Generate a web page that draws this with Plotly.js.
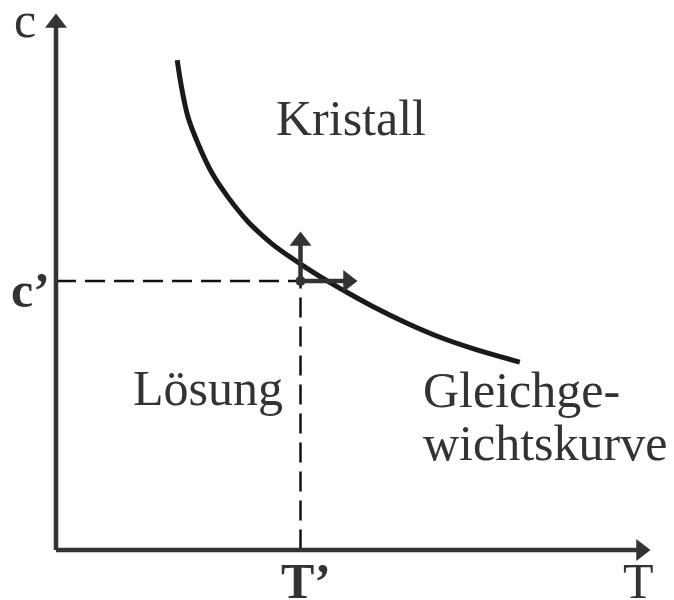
<!DOCTYPE html>
<html>
<head>
<meta charset="utf-8">
<script src="https://cdn.plot.ly/plotly-3.0.1.min.js"></script>
<style>
html,body{margin:0;padding:0;background:#fff;}
#chart{width:674px;height:600px;}
</style>
</head>
<body>
<div id="chart"></div>
<script>
// Equilibrium curve (Gleichgewichtskurve), temperature T vs concentration c
const curveT = [2.02, 2.1, 2.2, 2.37, 2.6, 2.87, 3.2, 3.6, 4.07, 4.57, 4.82, 5.28, 5.85, 6.4, 6.95, 7.73];
const curveC = [9.07, 8.52, 8.02, 7.52, 6.98, 6.53, 6.08, 5.67, 5.3, 4.95, 4.79, 4.51, 4.2, 3.94, 3.73, 3.48];

// Reference point (T', c')
const pointT = 4.075;
const pointC = 4.98;

// Axis ends and small direction arrows
const axisEndT = 9.75;
const axisEndC = 9.76;
const upArrowC = 5.72;
const rightArrowT = 4.867;

const FONT = 'Liberation Serif';
const DARK = '#333333';

const traces = [
  // dashed guide lines
  {x: [0, pointT, pointT], y: [pointC, pointC, 0], mode: 'lines',
   line: {color: '#111111', width: 2.5, dash: '20px,9px'}, hoverinfo: 'skip'},
  // equilibrium curve
  {x: curveT, y: curveC, mode: 'lines', line: {color: '#1a1a1a', width: 5, shape: 'spline', smoothing: 1}, hoverinfo: 'skip'},
  // axes lines
  {x: [0, 0, null, 0, axisEndT], y: [axisEndC, 0, null, 0, 0], mode: 'lines',
   line: {color: DARK, width: 4.5}, hoverinfo: 'skip'},
  // small arrow shafts
  {x: [pointT, pointT, null, pointT, rightArrowT], y: [pointC, upArrowC, null, pointC, pointC], mode: 'lines',
   line: {color: DARK, width: 4.5}, hoverinfo: 'skip'},
  // up arrowheads
  {x: [0, pointT], y: [axisEndC, upArrowC], mode: 'markers',
   marker: {symbol: 'triangle-up', size: 19, color: DARK, line: {width: 0}}, hoverinfo: 'skip'},
  // right arrowheads
  {x: [axisEndT, rightArrowT], y: [0, pointC], mode: 'markers',
   marker: {symbol: 'triangle-right', size: 19, color: DARK, line: {width: 0}}, hoverinfo: 'skip'},
  // point
  {x: [pointT], y: [pointC], mode: 'markers', marker: {size: 10, color: DARK}, hoverinfo: 'skip'}
];

function label(text, x, y, opts) {
  return Object.assign({text: text, x: x, y: y, xref: 'x', yref: 'y', showarrow: false,
    xanchor: 'center', yanchor: 'middle',
    font: {family: FONT, size: 50, color: DARK}}, opts || {});
}

const annotations = [
  label('c', -0.517, 9.815),
  label('<b>c’</b>', -0.433, 4.815),
  label('<b>T’</b>', 4.17, -0.574),
  label('T', 9.7, -0.574),
  label('Kristall', 4.92, 8.0),
  label('Lösung', 2.53, 3.0),
  label('Gleichge-', 6.08, 2.963, {xanchor: 'left'}),
  label('wichtskurve', 6.08, 1.98, {xanchor: 'left'})
];

const layout = {
  width: 674, height: 600,
  margin: {l: 0, r: 0, t: 0, b: 0},
  paper_bgcolor: '#ffffff', plot_bgcolor: '#ffffff',
  showlegend: false,
  font: {family: FONT},
  xaxis: {range: [-56/60, 618/60], visible: false, showgrid: false, zeroline: false, fixedrange: true},
  yaxis: {range: [-50/54, 550/54], visible: false, showgrid: false, zeroline: false, fixedrange: true},
  annotations: annotations
};

Plotly.newPlot('chart', traces, layout, {displayModeBar: false, staticPlot: true});
</script>
</body>
</html>
